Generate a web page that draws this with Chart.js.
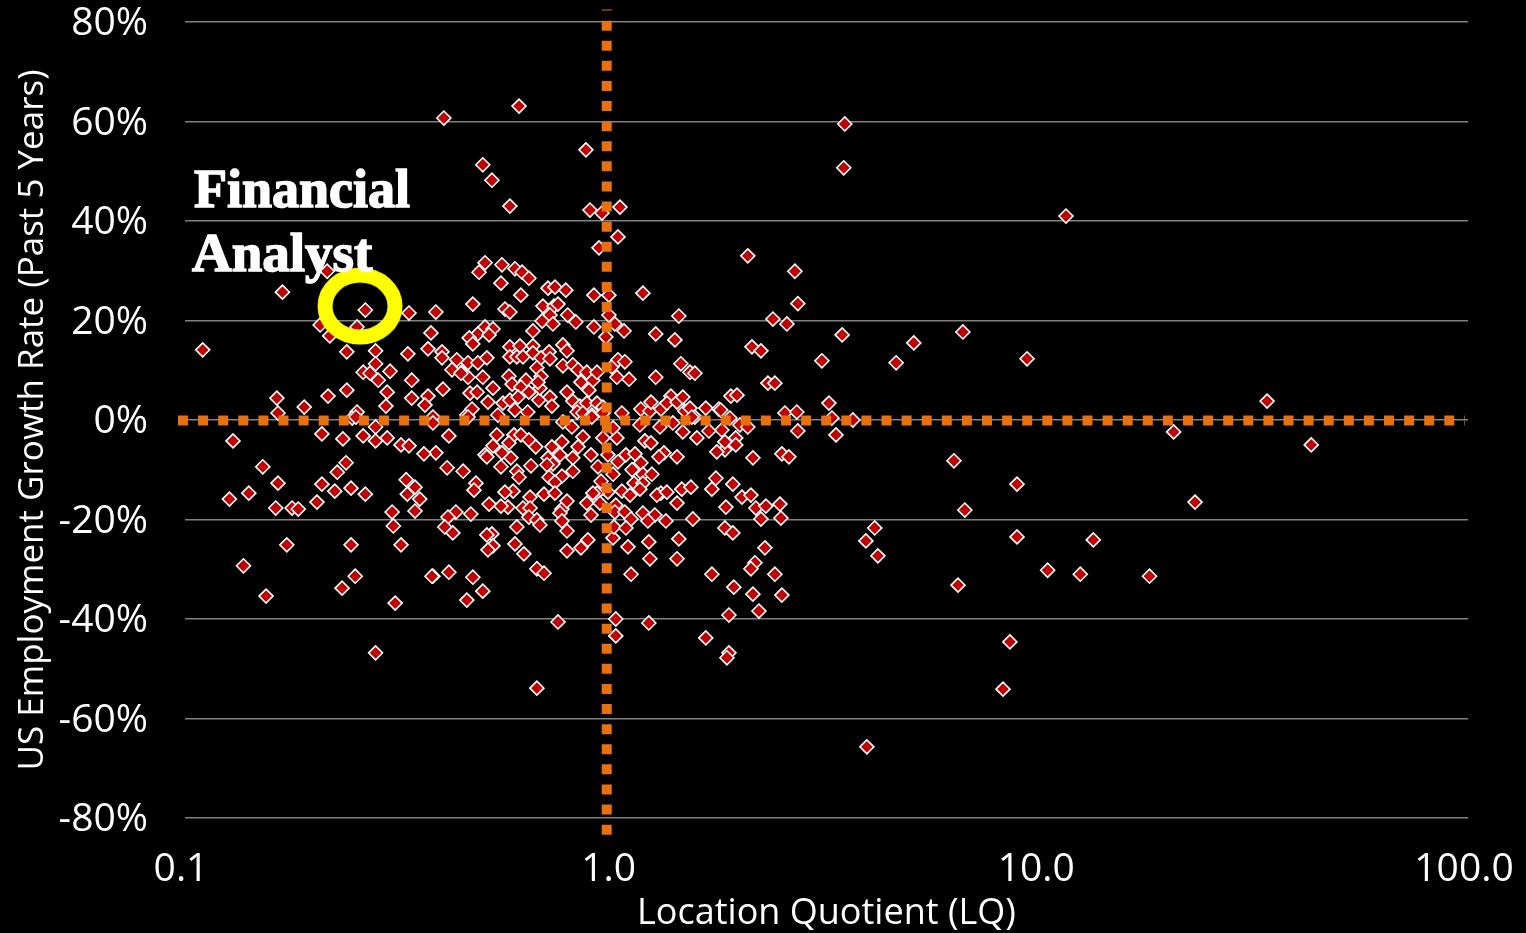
<!DOCTYPE html>
<html>
<head>
<meta charset="utf-8">
<title>Location Quotient vs Growth</title>
<script src="https://cdn.jsdelivr.net/npm/chart.js@4/dist/chart.umd.min.js"></script>
<style>
    html, body { margin: 0; padding: 0; background: #000; }
    canvas { display: block; }
</style>
</head>
<body>
<canvas id="lqChart" width="1526" height="933"></canvas>
<script>
// Occupations: location quotient and 5 year growth, same order in both lists
const lqValues = [
    .403, .604, 3.49, .866, 3.47, .497, .522, .575, .885, .944,
    1.04, 1.029, 11.48, 2.07, 2.667, 2.71, 2.37, 2.555, 3.44, 6.59,
    5.06, 4.60, 9.31, 33.9, 43.0, 20.5, 23.0, 6.28, 8.82, 6.66,
    8.82, 13.3, 6.42, 10.4, 12.4, 18.0, 8.49, 8.18, 3.93, 4.10,
    3.91, 4.17, .665, .745, 1.651, 1.017, 1.017, 1.215, 1.87, 1.85,
    .456, .215, .169, .264, .334, .386, .110, .376, .207, .218,
    .2525, .239, .279, .332, .370, .399, .399, .432, .421, .459,
    .444, .459, .279, .3016, .261, .2708, .283, .339, .401, .297,
    .239, .216, .339, .370, .364, .295, .164, .190, .165, .2525,
    .380, .246, .456, .503, .487, .551, .591, .614, .637, .548,
    .610, .471, .560, .575, .706, .733, .777, .929, .904, .980,
    1.177, .687, .729, .745, .7135, .684, .725, .785, .820, .651,
    .904, .980, .964, 1.012, 1.063, 1.261, 1.398, 1.428, .484, .503,
    .525, .514, .462, .471, .442, .484, .508, .497, .575, .607,
    .651, .575, .597, .617, .651, .680, .710, .7135, .765, .782,
    .665, .680, .572, .582, .627, .610, .525, .464, .482, .511,
    .554, .575, .591, .601, .637, .672, .676, .669, .7135, .721,
    .782, .765, .807, .830, .807, .843, .870, .899, .880, .919,
    .8385, .870, .919, .826, .852, .894, .996, 1.029, 1.068, 1.023,
    1.092, 1.261, 1.444, 1.516, 1.557, 1.164, 1.222, 1.229, 1.297, 1.368,
    1.339, 1.414, 1.459, 1.475, 1.516, 1.651, 1.772, 1.051, 1.557, .539,
    .633, .469, .949, .949, .380, .459, .765, .803, .894, 1.158,
    1.29, 1.383, 1.532, 1.800, 1.679, 1.459, .414, .536, .588, .610,
    .637, .661, .525, .572, .551, .578, .503, .508, .386, .410,
    .447, .548, .597, .604, .644, .721, .761, .830, .852, .706,
    .753, .807, .725, .702, .807, .710, .761, .733, .890, .924,
    .939, 1.002, .975, 1.023, .949, 1.002, 1.029, 1.074, 1.128, 1.164,
    1.110, 1.177, 1.235, 1.122, 1.177, 1.158, 1.051, 1.098, .975, .919,
    .899, .870, .934, 1.017, 1.012, 1.068, 1.104, 1.177, 1.255, 1.209,
    1.332, 1.540, .890, .761, .753, .782, .761, .782, .691, .733,
    .641, .585, .560, .569, .548, .514, .466, .430, .412, .405,
    .423, .479, .474, .617, .641, .637, .665, .676, .597, .522,
    .508, .525, .511, .591, .620, .665, .691, .782, .843, .875,
    1.002, 1.007, 1.074, 1.086, 1.215, 1.428, 1.222, 1.414, 1.104, 1.706,
    .414, .380, .471, .497, 1.297, 1.269, 1.339, 1.414, 1.451, 1.524,
    1.706, 1.743, 1.840, 1.830, 1.574, 1.318, 1.283, 1.414, 1.190, 1.229,
    1.830, 1.752, 1.830, .1295, .152, .165, .141, .127, .163, .178,
    .184, .2035, .209, .224, .227, .238, .2445, .264, .209, .234,
    .261, .279, .279, .297, .320, .334, .362, .329, .345, .331,
    .354, .305, .345, .307, .173, .2445, .320, .137, .250, .233,
    .1547, .310, .378, .279, .251, 2.117, 2.222, 3.085, 2.307, 2.395,
    1.890, 1.953, 3.204, 2.528, 2.695, 3.256, 3.645, 2.71, 3.328, 1.880,
    1.984, 2.07, 1.79, 1.94, 1.94, 2.128, 2.487, 2.583, 1.910, 2.006,
    2.105, 2.162, 2.282, 2.461, 2.474, 2.222, 1.910, 2.27, 2.151, 2.105,
    2.395, 1.92, 2.128, 2.487, 2.198, 1.87
];
const growthValues = [
    60.7, 63.1, 59.5, 54.3, 50.7, 51.3, 48.2, 43.0, 42.2, 41.6,
    42.8, 36.8, 41.0, 33.0, 29.9, 23.4, 20.3, 19.3, 17.1, 17.7,
    15.5, 11.5, 12.3, 3.8, -5.0, -2.4, -16.5, -8.2, -12.9, -18.1,
    -23.5, -24.1, -33.2, -30.2, -31.0, -31.4, -44.6, -54.1, -65.7, -21.7,
    -24.3, -27.3, -53.9, -40.6, -43.8, -40, -43.4, -40.8, -46.8, -47.8,
    -36.2, 29.9, 25.7, 22.1, 21.5, 21.7, 14.1, 17.5, 19.1, 16.9,
    18.7, 13.7, 13.9, 13.3, 14.3, 13.7, 12.5, 12.1, 10.1, 11.5,
    9.6, 8.6, 11.3, 9.8, 9.6, 9.4, 8.0, 8.0, 6.2, 5.6,
    6.0, 4.8, 4.4, 4.8, 3.0, 2.8, 4.4, 2.6, 1.4, 1.6,
    .6, .4, 1.0, 31.6, 29.7, 31.2, 30.4, 29.7, 28.5, 27.5,
    25.1, 23.3, 22.3, 21.7, 26.5, 26.7, 26.1, 34.6, 25.1, 25.1,
    25.5, 22.9, 22.9, 23.3, 21.1, 19.9, 19.3, 21.1, 19.7, 17.9,
    18.7, 21.1, 16.7, 19.3, 17.9, 17.3, 16.1, 20.9, 17.3, 18.7,
    18.3, 17.1, 16.5, 15.3, 9.4, 11.5, 12.5, 8.6, 14.7, 14.9,
    14.9, 12.7, 12.7, 12.7, 13.5, 12.5, 13.7, 12.3, 15.1, 13.9,
    10.5, 8.8, 8.8, 7.2, 8.0, 6.6, 6.4, 5.4, 5.6, 3.6,
    3.4, 4.0, 2.0, 4.6, 5.6, 4.0, 6.4, 7.6, 4.6, 2.8,
    5.6, 10.9, 11.1, 10.1, 3.8, 7.6, 9.6, 8.0, 6.0, 9.6,
    2.8, 3.4, 3.4, 1.6, 1.4, 1.0, 10.7, 12.1, 11.7, 8.6,
    8.2, 8.6, 11.3, 9.6, 9.4, 2.2, 1.8, 3.6, 2.2, 4.8,
    3.4, 3.6, 4.6, 1.8, 2.4, 2.4, 2.2, 1.4, .6, 1.0,
    1.6, 2.2, 2.6, 1.4, -.6, .6, -.4, -1.4, .6, -1.0,
    -1.4, -.6, .6, -2.0, -2.2, -2.4, -3.2, -3.0, -3.0, -3.0,
    -4.0, -5.4, -5.2, -4.6, -6.6, -7.6, -7.0, -7.4, -6.6, -9.6,
    -10.3, -9.4, -10.3, -11.5, -9.2, -5.4, -4.4, -5.4, -3.4, -7.6,
    -7.0, -7.6, -8.8, -9.0, -10.3, -11.5, -11.3, -12.5, -7.0, -9.4,
    -12.3, -10.9, -7.0, -3.6, -3.6, -1.6, -8.4, -7.0, -6.8, -8.6,
    -10.0, -10.9, -10.9, -12.7, -12.7, -13.9, -14.3, -15.1, -14.5, -14.7,
    -14.7, -16.7, -16.7, -17.1, -18.5, -18.5, -19.9, -18.7, -19.1, -20.3,
    -20.3, -19.9, -19.1, -17.9, -18.7, -16.3, -20.3, -22.3, -14.9, -14.7,
    -15.5, -14.3, -14.5, -17.5, -17.3, -16.9, -18.9, -18.5, -19.5, -21.5,
    -22.7, -12.7, -14.1, -17.7, -17.7, -19.5, -20.1, -21.1, -21.5, -22.9,
    -23.1, -25.3, -26.1, -24.9, -26.9, -29.9, -30.8, -26.3, -25.7, -24.1,
    -23.7, -21.5, -21.7, -25.5, -24.5, -23.9, -27.9, -27.9, -31.0, -31.0,
    -30.6, -31.4, -31.6, -34.4, -14.7, -15.1, -14.5, -16.7, -13.9, -13.5,
    -13.9, -11.7, -17.5, -21.7, -3.6, -6.6, -7.4, -7.4, -4.2, -4.6,
    -6.0, -6.4, -4.4, -4.2, -9.4, -12.7, -14.7, -15.9, -17.7, -17.7,
    -17.9, -16.5, -12.9, -14.3, -10.5, -8.6, -13.7, -14.9, -2.8, -3.8,
    -3.2, -1.4, -4.2, -3.6, -5.0, -5.2, -6.8, -12.0, -13.5, -14.9,
    -15.9, -18.5, -18.3, -21.3, -25.1, -25.1, -25.1, -29.3, -31.4, -33.8,
    -35.4, -36.8, -31.4, -46.8, .6, 14.7, 13.9, 11.9, 7.4, 7.4,
    4.8, 5.0, 3.4, 1.4, 1.6, .4, 0, -2.2, -3.0, .4,
    -1.0, -1.4, 2.0, -3.6, -5.0, -7.6, -6.8, -7.4, -12.9, -15.5,
    -15.1, -17.7, -17.3, -16.9, -19.7, -19.9, -22.7, -25.7, -28.7, -29.9,
    -31.0, -33.6, -35.0, -35.2, -38.4, -39.2
];

// Financial Analyst marker
const highlightLq = [0.2566];
const highlightGrowth = [22.9];

// Reference lines
const hLineLq = [0.0963, 98.4];
const hLineGrowth = [-0.1, -0.1];
const vLineLq = [0.9685, 0.9685];
const vLineGrowth = [82.5, -83.4];

const xTickValues = [0.1, 1, 10, 100];
const annotationLines = ['Financial', 'Analyst'];

const toPoints = (xs, ys) => xs.map((x, i) => ({ x: x, y: ys[i] }));

// elliptical ring used as the highlight point style
function makeRing() {
    const ring = document.createElement('canvas');
    ring.width = 90;
    ring.height = 82;
    const c = ring.getContext('2d');
    c.strokeStyle = '#FFFF00';
    c.lineWidth = 15;
    c.beginPath();
    c.ellipse(45, 41, 35, 31, 0, 0, Math.PI * 2);
    c.stroke();
    return ring;
}

const annotationPlugin = {
    id: 'analystLabel',
    afterDraw(chart) {
        const ctx = chart.ctx;
        ctx.save();
        ctx.fillStyle = '#fff';
        ctx.strokeStyle = '#fff';
        ctx.lineWidth = 1.5;
        ctx.textBaseline = 'alphabetic';
        annotationLines.forEach((line, i) => {
            const x = i === 0 ? 194 : 192;
            const y = i === 0 ? 207 : 271;
            ctx.font = (i === 0 ? 'bold 54px' : 'bold 55px') + ' "Liberation Serif"';
            ctx.fillText(line, x, y);
            ctx.strokeText(line, x, y);
        });
        ctx.restore();
    }
};

// scales keep their full area, tick labels may hang over the edge
const noScalePadding = scale => {
    scale.paddingTop = 0;
    scale.paddingBottom = 0;
    scale.paddingLeft = 0;
    scale.paddingRight = 0;
};

const orangeLine = {
    showLine: true,
    borderColor: '#E8700E',
    borderWidth: 10,
    borderDash: [10, 10.1],
    pointRadius: 0,
    clip: false,
    order: 0
};

new Chart(document.getElementById('lqChart'), {
    type: 'scatter',
    data: {
        datasets: [
            Object.assign({ label: 'LQ = 1', data: toPoints(vLineLq, vLineGrowth), borderDashOffset: 9 }, orangeLine),
            Object.assign({ label: 'No growth', data: toPoints(hLineLq, hLineGrowth) }, orangeLine),
            {
                label: 'Financial Analyst',
                data: toPoints(highlightLq, highlightGrowth),
                pointStyle: makeRing(),
                clip: false,
                order: 1
            },
            {
                label: 'Occupations',
                data: toPoints(lqValues, growthValues),
                pointStyle: 'rectRot',
                pointRadius: 7,
                pointBackgroundColor: '#C00000',
                pointBorderColor: '#fff',
                pointBorderWidth: 1.6,
                order: 2
            }
        ]
    },
    options: {
        responsive: false,
        animation: false,
        layout: { padding: { top: 22, right: 58, left: 0, bottom: 0 } },
        plugins: {
            legend: { display: false },
            tooltip: { enabled: false }
        },
        scales: {
            x: {
                type: 'logarithmic',
                min: 0.1,
                max: 100,
                afterBuildTicks: scale => { scale.ticks = xTickValues.map(v => ({ value: v })); },
                afterFit: scale => { scale.height = 115; noScalePadding(scale); },
                grid: { display: false },
                border: { display: false },
                ticks: {
                    color: '#fff',
                    font: { family: 'Open Sans', size: 39 },
                    padding: 20,
                    labelOffset: -4,
                    autoSkip: false,
                    maxRotation: 0,
                    callback: v => Number(v).toFixed(1)
                },
                title: {
                    display: true,
                    text: 'Location Quotient (LQ)',
                    color: '#fff',
                    font: { family: 'Open Sans', size: 36 },
                    padding: { top: 0, bottom: -2 }
                }
            },
            y: {
                min: -80,
                max: 80,
                afterFit: scale => { scale.width = 185; noScalePadding(scale); },
                grid: { color: '#808080', lineWidth: 1.5, drawTicks: false },
                border: { display: false },
                ticks: {
                    color: '#fff',
                    stepSize: 20,
                    font: { family: 'Open Sans', size: 39 },
                    padding: 37,
                    labelOffset: 2,
                    callback: v => v + '%'
                },
                title: {
                    display: true,
                    text: 'US Employment Growth Rate (Past 5 Years)',
                    color: '#fff',
                    font: { family: 'Open Sans', size: 35 },
                    padding: { top: 12, bottom: 0 }
                }
            }
        }
    },
    plugins: [annotationPlugin]
});
</script>
</body>
</html>
